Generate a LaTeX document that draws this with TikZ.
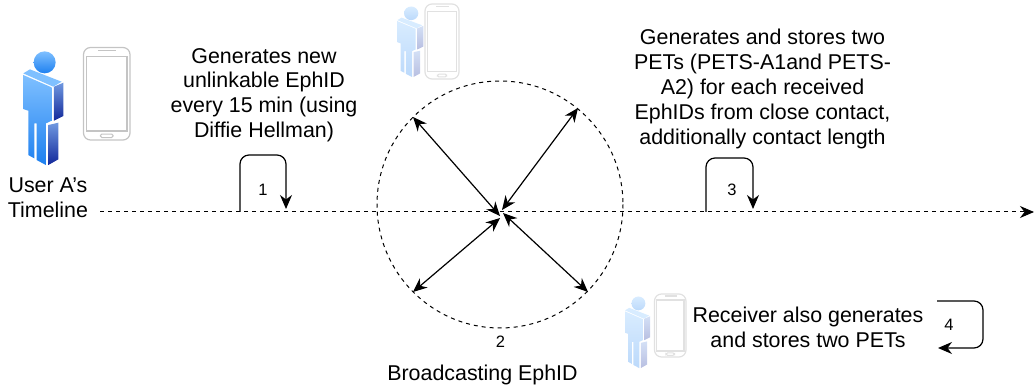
\documentclass[tikz,border=0pt]{standalone}
\usepackage{fontspec}
\setmainfont{Liberation Sans}
\usetikzlibrary{arrows.meta}
\definecolor{legA}{HTML}{7FC0FF}
\definecolor{legB}{HTML}{1E80F0}
\definecolor{sideA}{HTML}{6F98E0}
\definecolor{sideB}{HTML}{12289A}
\definecolor{phonegray}{HTML}{C4C4C4}
\tikzset{
  x=1pt,y=-1pt,
  txt/.style={align=center,inner sep=0pt,font=\fontsize{21.4}{24.8}\selectfont,text=black},
  num/.style={inner sep=0pt,font=\fontsize{16.5}{18}\selectfont},
  dashline/.style={line width=1pt,dash pattern=on 4pt off 4pt},
  tip/.style={-{Stealth[length=14pt,width=12pt,inset=4.5pt]}},
  bothtip/.style={{Stealth[length=14pt,width=12pt,inset=4.5pt]}-{Stealth[length=14pt,width=12pt,inset=4.5pt]}},
  arc line/.style={line width=1.2pt,rounded corners=9pt},
}
% person: left, top, x scale, y scale, tint
\newcommand{\personfig}[5]{%
\begin{scope}[shift={(#1,#2)},xscale=#3/3,yscale=#4/3]
 \def\tnt{#5}%
 \shade[top color=sideA!\tnt!white,bottom color=sideB!\tnt!white]
   (92,105)--(120,93)--(120,193)--(92,207)--cycle;
 \shade[top color=sideA!\tnt!white,bottom color=sideB!\tnt!white]
   (75,220)--(105,213)--(105,323)--(75,340)--cycle;
 \fill[legA!\tnt!white] (0,65)--(20,53)--(115,90)--(90,105)--cycle;
 \shade[top color=legA!\tnt!white,bottom color=legB!\tnt!white]
   (0,70)--(85,107)--(85,207)--(68,215)--(68,340)--(40,325)--(40,215)--(33,215)--(33,320)--(15,310)--(15,177)--(0,172)--cycle;
 \shade[top color=legA!\tnt!white,bottom color=legB!\tnt!white]
   (64,32) circle[x radius=33,y radius=33];
\end{scope}}
% phone: left, top, width, height, colour
\newcommand{\phonefig}[5]{%
\begin{scope}[shift={(#1,#2)},xscale=#3/47,yscale=#4/93]
 \draw[#5,line width=1.2pt,rounded corners=7pt] (0,0) rectangle (47,93);
 \draw[#5,line width=1.2pt] (3,9) rectangle (44,84);
 \draw[#5,line width=1pt,rounded corners=1.5pt] (17,87) rectangle (30,90.5);
 \draw[#5,line width=1.2pt] (15,3) -- (33,3);
\end{scope}}
\begin{document}
\begin{tikzpicture}
\useasboundingbox (0,0) rectangle (1034,387);
% people and phones
\personfig{23.3}{51.7}{1}{1}{100}
\phonefig{83.5}{47.5}{46.5}{92.5}{phonegray}
\personfig{397.3}{6.7}{0.65}{0.62}{30}
\phonefig{425}{4}{34}{75}{phonegray!50!white}
\personfig{625}{296.7}{0.63}{0.63}{30}
\phonefig{654.5}{294}{31.5}{63}{phonegray!50!white}
% anchors
\coordinate (tstart) at (100,212);
\coordinate (tend) at (1034,212);
\coordinate (o) at (500,204.5);
\coordinate (nw) at (413,117);
\coordinate (ne) at (578,108);
\coordinate (sw) at (413,292);
\coordinate (se) at (588,292);
\coordinate (cnw) at (500,216);
\coordinate (cne) at (502,210);
\coordinate (csw) at (500,218);
\coordinate (cse) at (503,213);
\coordinate (a1) at (240,212);
\coordinate (a1t) at (240,155);
\coordinate (b1t) at (286,155);
\coordinate (b1) at (286,209);
\coordinate (a3) at (706,212);
\coordinate (a3t) at (706,158);
\coordinate (b3t) at (753,158);
\coordinate (b3) at (753,209);
\coordinate (a4) at (937,301);
\coordinate (a4r) at (983,301);
\coordinate (b4r) at (983,348);
\coordinate (b4) at (938,348);
% circle
\draw[line width=1pt,dash pattern=on 4pt off 4pt] (o) circle[x radius=123,y radius=123.5];
% timeline
\draw[dashline,tip] (tstart) -- (tend);
% broadcast arrows
\draw[line width=1.2pt,bothtip] (nw) -- (cnw);
\draw[line width=1.2pt,bothtip] (ne) -- (cne);
\draw[line width=1.2pt,bothtip] (sw) -- (csw);
\draw[line width=1.2pt,bothtip] (se) -- (cse);
% loops
\draw[arc line,tip] (a1) -- (a1t) -- (b1t) -- (b1);
\draw[arc line,tip] (a3) -- (a3t) -- (b3t) -- (b3);
\draw[arc line,tip] (a4) -- (a4r) -- (b4r) -- (b4);
% texts
\node[txt] (user) at (48,197.5) {User A's\\Timeline};
\node[txt] (t1) at (264,95) {Generates new\\unlinkable EphID\\every 15 min (using\\Diffie Hellman)};
\node[txt] (t3) at (762.5,89) {Generates and stores two\\PETs (PETS-A1and PETS-\\A2) for each received\\EphIDs from close contact,\\additionally contact length};
\node[txt] (t4) at (808,327.5) {Receiver also generates\\and stores two PETs};
\node[txt] (t2) at (482.5,375) {Broadcasting EphID};
\node[num] (n1) at (263,190) {1};
\node[num] (n2) at (500.5,342) {2};
\node[num] (n3) at (732,190) {3};
\node[num] (n4) at (949,325) {4};
\end{tikzpicture}
\end{document}
